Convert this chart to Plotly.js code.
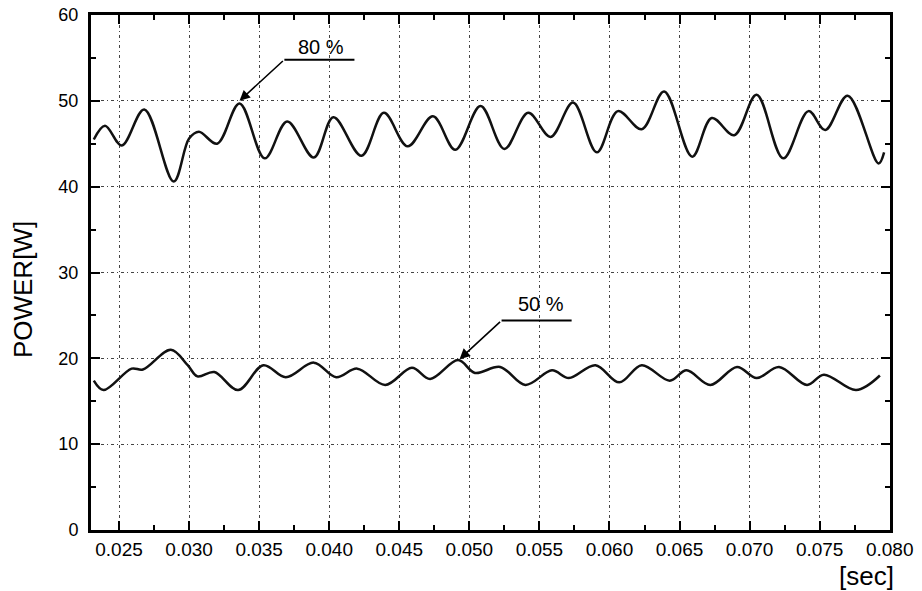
<!DOCTYPE html>
<html>
<head>
<meta charset="utf-8">
<script src="https://cdn.plot.ly/plotly-3.0.1.min.js"></script>
<style>
  html, body { margin: 0; padding: 0; background: #ffffff; }
  #chart { width: 922px; height: 591px; }
</style>
</head>
<body>
<div id="chart"></div>
<script>
// ---- data ----
const t80 = [0.0232, 0.0240, 0.0252, 0.0268, 0.0289, 0.0300, 0.0307, 0.0320, 0.0336, 0.0354,
             0.0370, 0.0389, 0.0403, 0.0423, 0.0439, 0.0456, 0.0474, 0.0490, 0.0508, 0.0525,
             0.0542, 0.0558, 0.0574, 0.0591, 0.0606, 0.0623, 0.0639, 0.0659, 0.0673, 0.0689,
             0.0705, 0.0724, 0.0742, 0.0754, 0.0770, 0.0792, 0.0796];
const p80 = [45.5, 47.1, 44.8, 49.0, 40.6, 45.6, 46.4, 45.0, 49.7, 43.3,
             47.6, 43.4, 48.1, 43.6, 48.6, 44.7, 48.2, 44.3, 49.4, 44.4,
             48.6, 45.8, 49.8, 44.0, 48.8, 46.7, 51.1, 43.5, 48.0, 46.0,
             50.7, 43.3, 48.8, 46.6, 50.6, 42.7, 44.0];

const t50 = [0.0232, 0.0239, 0.0259, 0.0267, 0.0287, 0.0299, 0.0306, 0.0318, 0.0335, 0.0353,
             0.0369, 0.0389, 0.0405, 0.0420, 0.0440, 0.0459, 0.0472, 0.0492, 0.0504, 0.0522,
             0.0540, 0.0559, 0.0571, 0.0590, 0.0607, 0.0623, 0.0643, 0.0655, 0.0672, 0.0691,
             0.0705, 0.0721, 0.0741, 0.0753, 0.0776, 0.0793];
const p50 = [17.4, 16.3, 18.8, 18.7, 21.0, 19.2, 17.9, 18.4, 16.3, 19.2,
             17.8, 19.5, 17.8, 18.8, 16.9, 18.9, 17.6, 19.8, 18.3, 19.0,
             16.9, 18.6, 17.7, 19.2, 17.2, 19.2, 17.4, 18.6, 16.9, 19.0,
             17.7, 19.0, 16.9, 18.1, 16.3, 18.0];

const xTickVals = [0.025, 0.030, 0.035, 0.040, 0.045, 0.050, 0.055, 0.060, 0.065, 0.070, 0.075, 0.080];
const xTickText = ["0.025", "0.030", "0.035", "0.040", "0.045", "0.050", "0.055", "0.060", "0.065", "0.070", "0.075", "0.080"];
const yTickVals = [0, 10, 20, 30, 40, 50, 60];
const yTickText = ["0", "10", "20", "30", "40", "50", "60"];

const seriesLabels = ["80 %", "50 %"];
const xTitle = "[sec]";
const yTitle = "POWER[W]";

// ---- chart ----
const FONT = "Liberation Sans, Arial, sans-serif";
const lineStyle = { color: "#111111", width: 2.5, shape: "spline", smoothing: 1 };

const traces = [
  { x: t80, y: p80, mode: "lines", line: lineStyle, name: seriesLabels[0], hoverinfo: "x+y" },
  { x: t50, y: p50, mode: "lines", line: lineStyle, name: seriesLabels[1], hoverinfo: "x+y" }
];

const axisCommon = {
  showline: true, linecolor: "#000000", linewidth: 3, mirror: "ticks",
  ticks: "inside", ticklen: 9, tickwidth: 2, tickcolor: "#000000",
  showgrid: true, gridcolor: "#444444", gridwidth: 1, griddash: "3px,3px,1px,3px",
  zeroline: false
};

const layout = {
  width: 922, height: 591,
  margin: { l: 91, r: 32, t: 15, b: 61 },
  paper_bgcolor: "#ffffff", plot_bgcolor: "#ffffff",
  showlegend: false,
  font: { family: FONT, color: "#000000" },
  xaxis: Object.assign({}, axisCommon, {
    range: [0.023, 0.08002],
    tickmode: "array", tickvals: xTickVals, ticktext: xTickText,
    tickfont: { family: FONT, size: 19, color: "#000000" },
    minor: { dtick: 0.0025, tick0: 0.0225, ticks: "inside", ticklen: 5, tickwidth: 2, tickcolor: "#000000", showgrid: false }
  }),
  yaxis: Object.assign({}, axisCommon, {
    range: [0, 60],
    tickmode: "array", tickvals: yTickVals, ticktext: yTickText,
    tickfont: { family: FONT, size: 18, color: "#000000" },
    ticklabelstandoff: 6,
    minor: { dtick: 5, tick0: 0, ticks: "inside", ticklen: 5, tickwidth: 2, tickcolor: "#000000", showgrid: false }
  }),
  shapes: [
    { type: "line", xref: "x", yref: "y", x0: 0.0368, x1: 0.0418, y0: 54.8, y1: 54.8,
      line: { color: "#000000", width: 2 } },
    { type: "line", xref: "x", yref: "y", x0: 0.0523, x1: 0.0573, y0: 24.4, y1: 24.4,
      line: { color: "#000000", width: 2 } }
  ],
  annotations: [
    { xref: "x", yref: "y", x: 0.0394, y: 56.3, text: seriesLabels[0], showarrow: false,
      font: { family: FONT, size: 20, color: "#000000" }, xanchor: "center", yanchor: "middle" },
    { xref: "x", yref: "y", x: 0.0336, y: 50.0, ax: 0.0368, ay: 54.8, axref: "x", ayref: "y",
      text: "", showarrow: true, arrowhead: 2, arrowsize: 1.3, arrowwidth: 1.6, arrowcolor: "#000000" },
    { xref: "x", yref: "y", x: 0.0551, y: 26.3, text: seriesLabels[1], showarrow: false,
      font: { family: FONT, size: 20, color: "#000000" }, xanchor: "center", yanchor: "middle" },
    { xref: "x", yref: "y", x: 0.0493, y: 19.9, ax: 0.0523, ay: 24.4, axref: "x", ayref: "y",
      text: "", showarrow: true, arrowhead: 2, arrowsize: 1.3, arrowwidth: 1.6, arrowcolor: "#000000" },
    { xref: "paper", yref: "paper", x: -0.085, y: 0.466, text: yTitle, textangle: -90, showarrow: false,
      font: { family: FONT, size: 26, color: "#000000" }, xanchor: "center", yanchor: "middle" },
    { xref: "paper", yref: "paper", x: 0.971, y: -0.089, text: xTitle, showarrow: false,
      font: { family: FONT, size: 26, color: "#000000" }, xanchor: "center", yanchor: "middle" }
  ]
};

Plotly.newPlot("chart", traces, layout, { staticPlot: true, displayModeBar: false });
</script>
</body>
</html>
